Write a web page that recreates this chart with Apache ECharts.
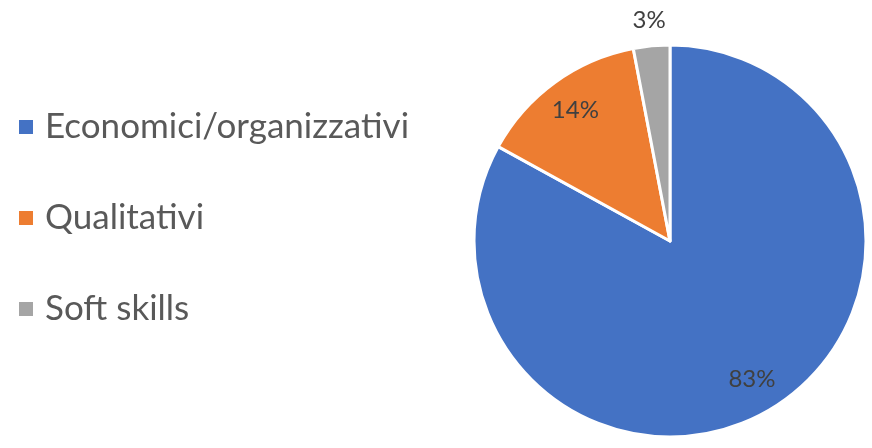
<!DOCTYPE html>
<html>
<head>
<meta charset="utf-8">
<script src="https://cdn.jsdelivr.net/npm/echarts@6/dist/echarts.min.js"></script>
<style>
  html, body { margin: 0; padding: 0; background: #ffffff; }
  #chart { width: 872px; height: 448px; }
</style>
</head>
<body>
<div id="chart"></div>
<script>
// Share of indicators by type
const categories = ['Economici/organizzativi', 'Qualitativi', 'Soft skills'];
const values = [83, 14, 3];
const colors = ['#4472C4', '#ED7D31', '#A5A5A5'];
// Slices whose percentage label sits outside the pie
const outsideLabel = [false, false, true];

const FONT = 'Lato, "Open Sans", sans-serif';
const center = ['670', '241'];

const pieData = categories.map((name, i) => ({
  name: name,
  value: values[i],
  itemStyle: { color: colors[i] }
}));

const labelStyle = {
  formatter: p => p.value + '%',
  color: '#404040',
  fontSize: 24,
  fontFamily: FONT
};

function labelRing(radius, showFn) {
  return {
    type: 'pie',
    center: center,
    radius: radius,
    startAngle: 90,
    silent: true,
    animation: false,
    legendHoverLink: false,
    tooltip: { show: false },
    data: categories.map((name, i) => ({
      name: name,
      value: values[i],
      itemStyle: { color: 'rgba(0,0,0,0)', borderWidth: 0 },
      label: Object.assign({ show: showFn(i), position: 'inside' }, labelStyle),
      labelLine: { show: false }
    }))
  };
}

const chart = echarts.init(document.getElementById('chart'), null, { renderer: 'canvas' });
chart.setOption({
  backgroundColor: '#ffffff',
  animation: false,
  legend: {
    orient: 'vertical',
    left: 12,
    top: 102,
    icon: 'rect',
    itemWidth: 16,
    itemHeight: 16,
    itemGap: 51,
    data: categories,
    textStyle: {
      fontSize: 35,
      lineHeight: 40,
      color: '#595959',
      fontFamily: FONT,
      padding: [0, 0, 0, 6]
    }
  },
  series: [
    {
      type: 'pie',
      center: center,
      radius: [0, 196],
      startAngle: 90,
      clockwise: true,
      animation: false,
      label: { show: false },
      labelLine: { show: false },
      itemStyle: { borderColor: '#ffffff', borderWidth: 3 },
      emphasis: { disabled: true },
      data: pieData
    },
    labelRing([120, 196], i => !outsideLabel[i]),
    labelRing([196, 242], i => outsideLabel[i])
  ]
});
</script>
</body>
</html>
